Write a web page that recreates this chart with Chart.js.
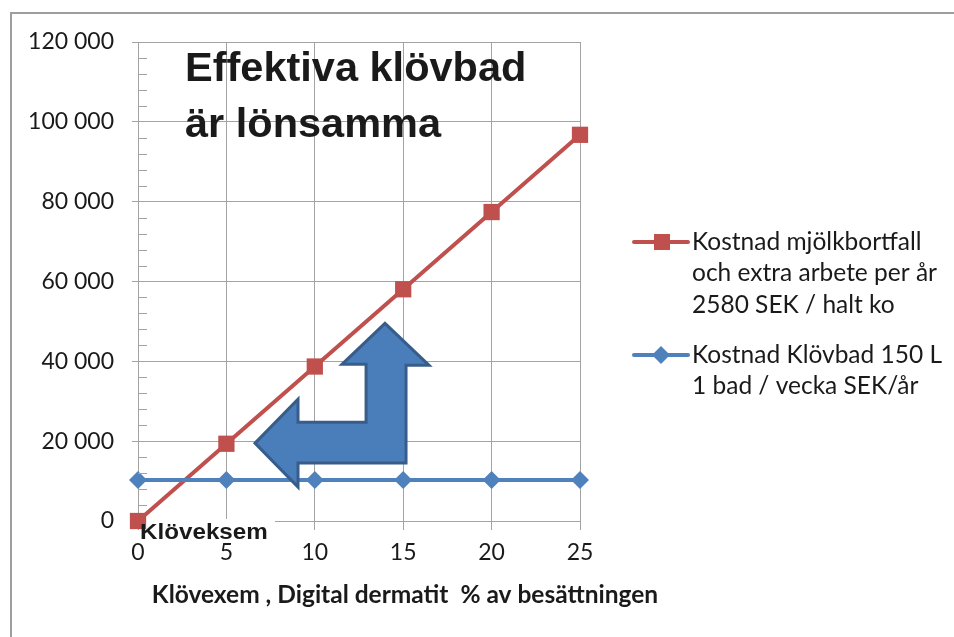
<!DOCTYPE html>
<html>
<head>
<meta charset="utf-8">
<script src="https://cdn.jsdelivr.net/npm/chart.js@4.4.1/dist/chart.umd.min.js"></script>
<style>
  html, body { margin: 0; padding: 0; background: #fff; }
  #wrap { width: 954px; height: 637px; }
</style>
</head>
<body>
<div id="wrap"><canvas id="chart" width="954" height="637"></canvas></div>
<script>
// data
const procent = [0, 5, 10, 15, 20, 25];
const kostnadMjolk = [0, 19350, 38700, 58050, 77400, 96750];
const kostnadKlovbad = [10300, 10300, 10300, 10300, 10300, 10300];
const legendMjolk = ['Kostnad mjölkbortfall', 'och extra arbete per år', '2580 SEK / halt ko'];
const legendKlovbad = ['Kostnad Klövbad 150 L', '1 bad / vecka SEK/år'];
const rubrik = ['Effektiva klövbad', 'är lönsamma'];
const xTitel = 'Klövexem , Digital dermatit  % av besättningen';

const RED = '#C0504D';
const BLUE = '#4F81BD';
const GRID = '#a3a3a3';

// bent arrow, given in data units (x = %, y = SEK)
const pil = [
  [6.62, 19500], [9.05, 30500], [9.05, 24750], [12.9, 24750], [12.9, 39250],
  [11.54, 39250], [13.97, 49500], [16.46, 39000], [15.16, 39000], [15.16, 14500],
  [9.05, 14500], [9.05, 8500]
];

const extras = {
  id: 'extras',
  beforeDatasetsDraw(chart) {
    // white box behind the "Klöveksem" label hides part of the x axis
    const ctx = chart.ctx;
    ctx.save();
    ctx.fillStyle = '#fff';
    ctx.fillRect(141, 519, 134, 24);
    ctx.restore();
  },
  afterDatasetsDraw(chart) {
    const ctx = chart.ctx;
    const xs = chart.scales.x, ys = chart.scales.y;
    ctx.save();
    ctx.beginPath();
    pil.forEach((p, i) => {
      const px = xs.getPixelForValue(p[0]), py = ys.getPixelForValue(p[1]);
      if (i === 0) ctx.moveTo(px, py); else ctx.lineTo(px, py);
    });
    ctx.closePath();
    ctx.fillStyle = '#4A7EBB';
    ctx.fill();
    ctx.lineWidth = 3;
    ctx.strokeStyle = '#385D8A';
    ctx.lineJoin = 'miter';
    ctx.stroke();
    ctx.restore();
  },
  afterDraw(chart) {
    const ctx = chart.ctx;
    const ys = chart.scales.y;
    const left = chart.chartArea.left;
    ctx.save();

    // minor ticks on y axis
    ctx.strokeStyle = GRID;
    ctx.lineWidth = 1;
    for (let v = 0; v <= 120000; v += 4000) {
      if (v % 20000 === 0) continue;
      const py = Math.round(ys.getPixelForValue(v)) + 0.5;
      ctx.beginPath();
      ctx.moveTo(left, py);
      ctx.lineTo(left + 9, py);
      ctx.stroke();
    }

    // frame (top and left)
    ctx.strokeStyle = '#9e9e9e';
    ctx.lineWidth = 2;
    ctx.beginPath();
    ctx.moveTo(11, 637);
    ctx.lineTo(11, 13);
    ctx.lineTo(954, 13);
    ctx.stroke();

    // title
    ctx.fillStyle = '#1a1a1a';
    ctx.font = 'bold 41.5px "Liberation Sans", Arial, sans-serif';
    ctx.textBaseline = 'alphabetic';
    ctx.textAlign = 'left';
    ctx.fillText(rubrik[0], 185, 81);
    ctx.fillText(rubrik[1], 185, 137);

    // Klöveksem label
    ctx.font = 'bold 22px "Liberation Sans", Arial, sans-serif';
    ctx.save();
    ctx.translate(140, 539);
    ctx.scale(1.1, 1);
    ctx.fillText('Klöveksem', 0, 0);
    ctx.restore();

    // x axis title
    ctx.font = 'bold 24.5px Lato, sans-serif';
    ctx.textAlign = 'center';
    ctx.fillText(xTitel, 405, 603);

    // legend
    const drawEntry = (lines, color, shape, y0) => {
      ctx.strokeStyle = color;
      ctx.lineWidth = 4;
      ctx.lineCap = 'round';
      ctx.beginPath();
      ctx.moveTo(634, y0);
      ctx.lineTo(688, y0);
      ctx.stroke();
      ctx.fillStyle = color;
      ctx.beginPath();
      if (shape === 'rect') {
        ctx.rect(654, y0 - 8, 16, 16);
      } else {
        ctx.moveTo(661, y0 - 9);
        ctx.lineTo(670, y0);
        ctx.lineTo(661, y0 + 9);
        ctx.lineTo(652, y0);
        ctx.closePath();
      }
      ctx.fill();
      ctx.fillStyle = '#1a1a1a';
      ctx.font = '24.5px Lato, sans-serif';
      ctx.textAlign = 'left';
      ctx.textBaseline = 'middle';
      lines.forEach((t, i) => ctx.fillText(t, 692, y0 + i * 31.5));
    };
    drawEntry(legendMjolk, RED, 'rect', 242);
    drawEntry(legendKlovbad, BLUE, 'diamond', 355);

    ctx.restore();
  }
};

const ctx = document.getElementById('chart').getContext('2d');
new Chart(ctx, {
  type: 'line',
  data: {
    datasets: [
      {
        label: legendKlovbad.join(' '),
        data: procent.map((p, i) => ({ x: p, y: kostnadKlovbad[i] })),
        borderColor: BLUE,
        backgroundColor: BLUE,
        borderWidth: 4,
        pointStyle: 'rectRot',
        pointRadius: 9,
        pointBorderWidth: 0,
        clip: false
      },
      {
        label: legendMjolk.join(' '),
        data: procent.map((p, i) => ({ x: p, y: kostnadMjolk[i] })),
        borderColor: RED,
        backgroundColor: RED,
        borderWidth: 4,
        pointStyle: 'rect',
        pointRadius: 11.5,
        pointBorderWidth: 0,
        clip: false
      }
    ]
  },
  options: {
    responsive: false,
    animation: false,
    events: [],
    layout: { padding: { top: 42, right: 374, left: 0, bottom: 0 } },
    plugins: { legend: { display: false }, tooltip: { enabled: false } },
    scales: {
      x: {
        type: 'linear',
        min: 0,
        max: 25,
        ticks: {
          stepSize: 5,
          padding: 9,
          color: '#1a1a1a',
          font: { family: 'Lato, sans-serif', size: 23 }
        },
        grid: { color: GRID, lineWidth: 1, tickLength: 9 },
        border: { color: GRID, width: 1 },
        afterFit: s => { s.height = 116; }
      },
      y: {
        min: 0,
        max: 120000,
        ticks: {
          stepSize: 20000,
          padding: 18,
          color: '#1a1a1a',
          font: { family: 'Lato, sans-serif', size: 23 },
          callback: v => String(v).replace(/\B(?=(\d{3})+(?!\d))/g, ' ')
        },
        grid: { color: GRID, lineWidth: 1, tickLength: 6 },
        border: { color: GRID, width: 1 },
        afterFit: s => { s.width = 138; }
      }
    }
  },
  plugins: [extras]
});
</script>
</body>
</html>
